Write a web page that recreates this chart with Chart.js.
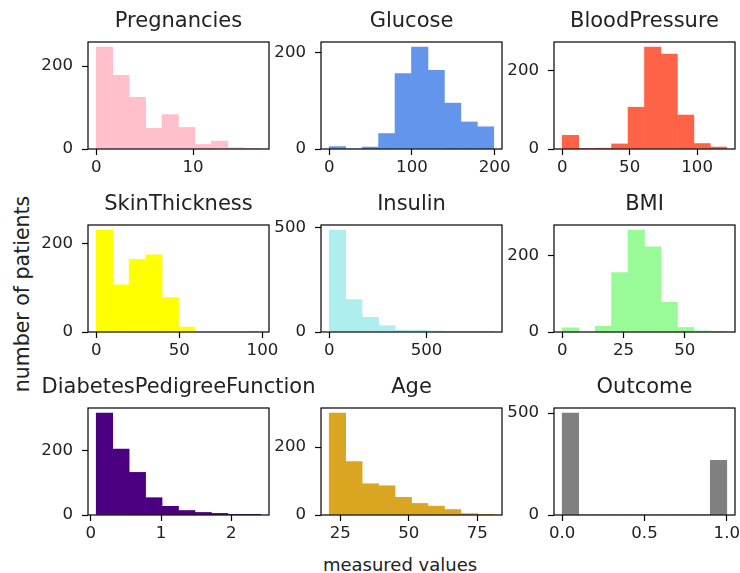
<!DOCTYPE html>
<html>
<head>
<meta charset="utf-8">
<script src="https://cdn.jsdelivr.net/npm/chart.js@4.4.0/dist/chart.umd.min.js"></script>
<style>
  body { margin: 0; width: 740px; height: 573px; overflow: hidden; position: relative; background: #fff; font-family: "DejaVu Sans", sans-serif; }
  canvas { position: absolute; }
  .lbl { position: absolute; color: #222; white-space: nowrap; transform: translate(-50%, -50%); }
  #ylab { left: 22px; top: 294px; font-size: 20.5px; transform: translate(-50%, -50%) rotate(-90deg); }
  #xlab { left: 400px; top: 564px; font-size: 18px; }
</style>
</head>
<body>
<div id="ylab" class="lbl">number of patients</div>
<div id="xlab" class="lbl">measured values</div>
<script>
// one histogram (10 bins) per feature
const features = ["Pregnancies", "Glucose", "BloodPressure", "SkinThickness", "Insulin", "BMI",
  "DiabetesPedigreeFunction", "Age", "Outcome"];
const binRanges = [[0, 17], [0, 199], [0, 122], [0, 99], [0, 846], [0, 67.1], [0.078, 2.42], [21, 81], [0, 1]];
const counts = [
  [246, 178, 125, 50, 83, 52, 11, 19, 3, 1],
  [5, 0, 4, 32, 156, 211, 163, 95, 56, 46],
  [35, 1, 2, 13, 107, 261, 243, 87, 14, 5],
  [231, 107, 165, 175, 78, 11, 0, 0, 0, 1],
  [487, 155, 70, 30, 8, 9, 5, 1, 2, 1],
  [11, 0, 15, 156, 268, 224, 78, 12, 3, 1],
  [318, 206, 133, 54, 27, 14, 8, 5, 2, 1],
  [300, 157, 92, 86, 52, 34, 26, 16, 4, 1],
  [500, 0, 0, 0, 0, 0, 0, 0, 0, 268]
];
const xTicks = [[0, 10], [0, 100, 200], [0, 50, 100], [0, 50, 100], [0, 500], [0, 25, 50], [0, 1, 2], [25, 50, 75], [0, 0.5, 1]];
const xTickLabels = [["0", "10"], ["0", "100", "200"], ["0", "50", "100"], ["0", "50", "100"], ["0", "500"],
  ["0", "25", "50"], ["0", "1", "2"], ["25", "50", "75"], ["0.0", "0.5", "1.0"]];
const yTicks = [[0, 200], [0, 200], [0, 200], [0, 200], [0, 500], [0, 200], [0, 200], [0, 200], [0, 500]];
const colors = ["#ffc0cb", "#6495ed", "#ff6347", "#ffff00", "#afeeee", "#98fb98", "#4b0082", "#daa520", "#808080"];

// layout (pixels)
const colLeft = [88, 321, 554];
const rowTop = [42, 225, 408];
const AX_W = 181, AX_H = 107, SIDE = 60, TITLE_H = 36, X_H = 34;
const TXT = "#222";
const FONT = "'DejaVu Sans', sans-serif";

// draws the four spines
const frame = {
  id: "frame",
  afterDraw(chart) {
    const { ctx, chartArea: a } = chart;
    ctx.save();
    ctx.strokeStyle = "#000";
    ctx.lineWidth = 1.2;
    ctx.strokeRect(a.left, a.top, a.right - a.left, a.bottom - a.top);
    ctx.restore();
  }
};

const tickGrid = { display: true, offset: false, drawOnChartArea: false, drawTicks: true, tickLength: 6, tickColor: "#000", tickWidth: 1.2 };

features.forEach((name, i) => {
  const r = Math.floor(i / 3), c = i % 3;
  const cv = document.createElement("canvas");
  cv.width = SIDE * 2 + AX_W;
  cv.height = TITLE_H + AX_H + X_H;
  cv.style.left = (colLeft[c] - SIDE) + "px";
  cv.style.top = (rowTop[r] - TITLE_H) + "px";
  document.body.appendChild(cv);

  const [lo, hi] = binRanges[i];
  const w = (hi - lo) / counts[i].length;
  const pts = counts[i].map((n, k) => ({ x: lo + (k + 0.5) * w, y: n }));
  const margin = (hi - lo) * 0.05;
  const ymax = Math.max(...counts[i]) * 1.05;

  new Chart(cv.getContext("2d"), {
    type: "bar",
    data: {
      datasets: [{
        data: pts,
        backgroundColor: colors[i],
        borderWidth: 0,
        barPercentage: 1,
        categoryPercentage: 1
      }]
    },
    options: {
      responsive: false,
      animation: false,
      devicePixelRatio: 1,
      layout: { padding: 0 },
      plugins: {
        legend: { display: false },
        tooltip: { enabled: false },
        title: {
          display: true,
          text: name,
          color: TXT,
          font: { family: FONT, size: 21, weight: "normal", lineHeight: "25px" },
          padding: { top: 3, bottom: 8 }
        }
      },
      scales: {
        x: {
          type: "linear",
          min: lo - margin,
          max: hi + margin,
          offset: false,
          afterBuildTicks: s => { s.ticks = xTicks[i].map(v => ({ value: v })); },
          afterFit: s => { s.height = X_H; s.paddingLeft = 0; s.paddingRight = 0; },
          ticks: {
            autoSkip: false, maxRotation: 0, padding: 3, color: TXT,
            font: { family: FONT, size: 16.6 },
            callback: (v, k) => xTickLabels[i][k]
          },
          grid: tickGrid,
          border: { display: false }
        },
        y: {
          min: 0,
          max: ymax,
          afterBuildTicks: s => { s.ticks = yTicks[i].map(v => ({ value: v })); },
          afterFit: s => { s.width = SIDE; s.paddingTop = 0; s.paddingBottom = 0; },
          ticks: { padding: 9, color: TXT, font: { family: FONT, size: 16.6 }, callback: v => String(v) },
          grid: tickGrid,
          border: { display: false }
        },
        // empty right box so the title centres over the plot area
        yr: {
          position: "right",
          display: true,
          afterFit: s => { s.width = SIDE; s.paddingTop = 0; s.paddingBottom = 0; },
          ticks: { display: false },
          grid: { display: false },
          border: { display: false }
        }
      }
    },
    plugins: [frame]
  });
});
</script>
</body>
</html>
